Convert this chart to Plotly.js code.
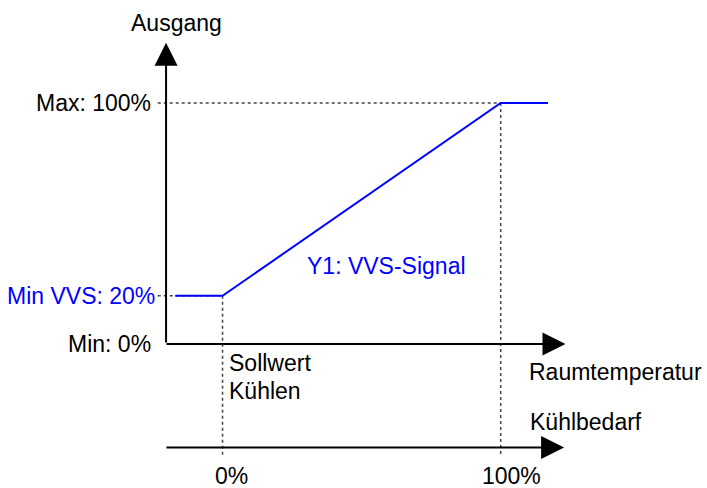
<!DOCTYPE html>
<html>
<head>
<meta charset="utf-8">
<script src="https://cdn.plot.ly/plotly-3.0.1.min.js"></script>
<style>html,body{margin:0;padding:0;background:#fff;}#chart{width:707px;height:488px;}</style>
</head>
<body>
<div id="chart"></div>
<script>
// Y1 VVS signal: x = Kühlbedarf (%), y = Ausgang (%)
const signalX = [-17, 0, 100, 117];
const signalY = [20, 20, 100, 100];
const signalName = 'Y1: VVS-Signal';

// Output levels (y) and their labels
const yLevels = [0, 20, 100];
const yLabels = ['Min: 0%', 'Min VVS: 20%', 'Max: 100%'];

// Cooling demand ticks (x) and labels
const xTicks = [0, 100];
const xTickLabels = ['0%', '100%'];

const yTitle = 'Ausgang';
const xTitle1 = 'Raumtemperatur';
const xTitle2 = 'Kühlbedarf';
const setpointLabel = ['Sollwert', 'Kühlen'];

const FONT = 'Liberation Sans, Arial, sans-serif';
const FS = 23;
const BLUE = '#0000ff';
const AX_X = -20.3;     // y axis position
const LOW_Y = -42.9;    // lower axis position
const DOT_BOTTOM = -46;

const shapes = [];
// dotted guides
shapes.push({type:'line', xref:'x', yref:'y', x0:-23.3, x1:xTicks[1], y0:yLevels[2], y1:yLevels[2],
  line:{color:'#444', width:1.5, dash:'dot'}, layer:'below'});
shapes.push({type:'line', xref:'x', yref:'y', x0:-23.3, x1:xTicks[0], y0:yLevels[1], y1:yLevels[1],
  line:{color:'#444', width:1.5, dash:'dot'}, layer:'below'});
shapes.push({type:'line', xref:'x', yref:'y', x0:xTicks[0], x1:xTicks[0], y0:yLevels[1], y1:DOT_BOTTOM,
  line:{color:'#444', width:1.5, dash:'dot'}, layer:'below'});
shapes.push({type:'line', xref:'x', yref:'y', x0:xTicks[1], x1:xTicks[1], y0:yLevels[2], y1:DOT_BOTTOM,
  line:{color:'#444', width:1.5, dash:'dot'}, layer:'below'});

const arrowBase = {text:'', showarrow:true, arrowhead:2, arrowsize:2.3, arrowwidth:2, arrowcolor:'#000',
  xref:'x', yref:'y', axref:'x', ayref:'y', standoff:0, startstandoff:0};
const annotations = [
  // y axis arrow
  Object.assign({}, arrowBase, {x:AX_X, y:125, ax:AX_X, ay:yLevels[0]}),
  // top x axis arrow
  Object.assign({}, arrowBase, {x:123.3, y:yLevels[0], ax:AX_X - 0.4, ay:yLevels[0]}),
  // lower axis arrow
  Object.assign({}, arrowBase, {x:122.8, y:LOW_Y, ax:-20.7, ay:LOW_Y}),
];
const txt = (text, x, y, xanchor, color, yanchor) => ({text, x, y, xref:'x', yref:'y', showarrow:false,
  xanchor:xanchor, yanchor:yanchor || 'middle', font:{family:FONT, size:FS, color:color || '#000'}});

annotations.push(txt(yTitle, -16.5, 133.2, 'center'));
annotations.push(txt(yLabels[2], -25, yLevels[2], 'right'));
annotations.push(txt(yLabels[1], -23.5, yLevels[1], 'right', BLUE));
annotations.push(txt(yLabels[0], -25, yLevels[0], 'right'));
annotations.push(txt(signalName, 29.7, 32.4, 'left', BLUE));
annotations.push(txt(setpointLabel[0], 1.6, -7.9, 'left'));
annotations.push(txt(setpointLabel[1], 1.6, -19.5, 'left'));
annotations.push(txt(xTitle1, 109.4, -11.6, 'left'));
annotations.push(txt(xTitle2, 109.8, -32.4, 'left'));
annotations.push(txt(xTickLabels[0], xTicks[0] + 3.4, -54.6, 'center'));
annotations.push(txt(xTickLabels[1], xTicks[1] + 4, -54.6, 'center'));

const data = [{
  x: signalX, y: signalY, type:'scatter', mode:'lines', name: signalName,
  line:{color:BLUE, width:2}, hoverinfo:'skip'
}];

const layout = {
  width:707, height:488,
  margin:{l:0, r:0, t:0, b:0, pad:0, autoexpand:false},
  paper_bgcolor:'#fff', plot_bgcolor:'#fff',
  showlegend:false,
  xaxis:{range:[-80, 174.16], visible:false, fixedrange:true},
  yaxis:{range:[-59.75, 142.74], visible:false, fixedrange:true},
  shapes, annotations,
  font:{family:FONT, size:FS}
};
Plotly.newPlot('chart', data, layout, {displayModeBar:false, staticPlot:true});
</script>
</body>
</html>
